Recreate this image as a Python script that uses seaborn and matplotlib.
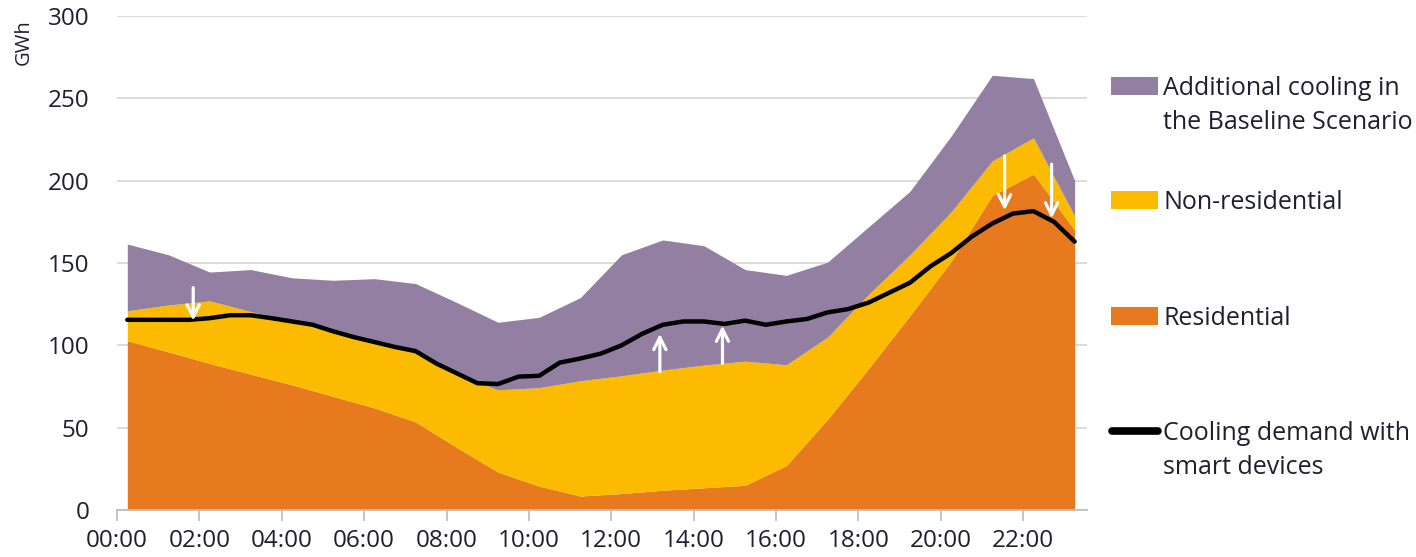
import seaborn as sns
import matplotlib
matplotlib.use("Agg")
from matplotlib import pyplot as plt
from matplotlib.patches import Rectangle
from matplotlib.lines import Line2D

# hourly values (GWh)
hours = [0.25, 1.25, 2.25, 3.25, 4.25, 5.25, 6.25, 7.25, 8.25, 9.25, 10.25, 11.25,
         12.25, 13.25, 14.25, 15.25, 16.25, 17.25, 18.25, 19.25, 20.25, 21.25, 22.25, 23.25]
residential = [102.8, 96, 89, 82.5, 76, 69, 62, 53.5, 38, 23, 14.5, 8.5,
               10, 12, 13.5, 15, 27, 55, 86, 118, 151, 191, 204, 170]
non_residential = [18.2, 28.5, 38, 38, 39, 39, 40, 41.5, 44, 50, 59.8, 70,
                   71.5, 73, 74.5, 75.4, 61.2, 50, 45, 37, 30, 21, 22, 8.5]
additional = [40.5, 30.5, 17.5, 25.5, 26, 31.5, 38.5, 42.5, 44, 41, 42.7, 50.5,
              73.5, 79, 72.5, 55.6, 54.3, 45.5, 41, 38.5, 46, 52, 36, 21.5]

line_hours = [0.25, 0.75, 1.25, 1.75, 2.25, 2.75, 3.25, 3.75, 4.25, 4.75, 5.25, 5.75,
              6.25, 6.75, 7.25, 7.75, 8.25, 8.75, 9.25, 9.75, 10.25, 10.75, 11.25, 11.75,
              12.25, 12.75, 13.25, 13.75, 14.25, 14.75, 15.25, 15.75, 16.25, 16.75, 17.25, 17.75,
              18.25, 18.75, 19.25, 19.75, 20.25, 20.75, 21.25, 21.75, 22.25, 22.75, 23.25]
smart_demand = [115.5, 115.5, 115.5, 115.5, 116.5, 118.3, 118.3, 116.5, 114.5, 112.5, 108.5, 105,
                102, 99, 96.5, 89, 83, 77, 76.5, 81, 81.5, 89.5, 92, 95,
                100, 107, 112.5, 114.5, 114.5, 113, 115, 112.5, 114.5, 116, 120, 122,
                126, 132, 138, 148, 156, 166, 174, 180, 181.5, 175, 163]

# white arrows: hour, start value, end value
arrow_hours = [1.85, 13.18, 14.7, 21.55, 22.69]
arrow_from = [135, 84, 89, 215, 210]
arrow_to = [115, 107, 112, 182, 177]

labels = ["Additional cooling in\nthe Baseline Scenario", "Non-residential", "Residential",
          "Cooling demand with\nsmart devices"]
colors = ["#927FA2", "#FCBB00", "#E7791F", "black"]
tick_hours = [0, 2, 4, 6, 8, 10, 12, 14, 16, 18, 20, 22]
tick_labels = ["00:00", "02:00", "04:00", "06:00", "08:00", "10:00",
               "12:00", "14:00", "16:00", "18:00", "20:00", "22:00"]

sns.set_theme(style="white")
plt.rcParams["font.family"] = ["Open Sans", "DejaVu Sans"]
text_color = "#1F1F2F"

W, H = 1416, 557
fig = plt.figure(figsize=(W / 100, H / 100), dpi=100)
ax = fig.add_axes([117 / W, 1 - 510 / H, 970 / W, 494 / H])

ax.stackplot(hours, residential, non_residential, additional,
             colors=[colors[2], colors[1], colors[0]], linewidth=0, zorder=2)
sns.lineplot(x=line_hours, y=smart_demand, color="black", linewidth=3.2, ax=ax, zorder=3)

for h, a, b in zip(arrow_hours, arrow_from, arrow_to):
    ax.annotate("", xy=(h, b), xytext=(h, a),
                arrowprops=dict(arrowstyle="->", color="white", lw=2.3, mutation_scale=22,
                                shrinkA=0, shrinkB=0), zorder=4)

ax.set_xlim(0, 23.55)
ax.set_ylim(0, 300)
ax.set_yticks([0, 50, 100, 150, 200, 250, 300])
ax.set_xticks(tick_hours)
ax.set_xticklabels(tick_labels)
ax.grid(axis="y", color="#D9D9D9", linewidth=1.3, zorder=0)
ax.grid(axis="x", visible=False)
ax.set_axisbelow(True)
for s in ["left", "right", "top"]:
    ax.spines[s].set_visible(False)
ax.spines["bottom"].set_color("#BFBFBF")
ax.spines["bottom"].set_linewidth(1.3)
ax.tick_params(axis="x", bottom=True, length=8, width=1.3, color="#BFBFBF", pad=6,
               labelsize=17.5, labelcolor=text_color)
ax.tick_params(axis="y", left=False, length=0, pad=20, labelsize=17.5, labelcolor=text_color)
ax.text(-0.096, 0.947, "GWh", transform=ax.transAxes, rotation=90, ha="center", va="center",
        fontsize=14.5, color=text_color)

# legend on the right, handle aligned with the first text line
centers = [86, 200, 316, 431]
for lab, col, cy in zip(labels, colors, centers):
    if col == "black":
        fig.add_artist(Line2D([1112 / W, 1158 / W], [1 - cy / H, 1 - cy / H], color=col,
                              linewidth=5.5, solid_capstyle="round"))
    else:
        fig.add_artist(Rectangle((1111 / W, 1 - (cy + 9) / H), 47 / W, 18 / H,
                                 facecolor=col, edgecolor="none"))
    for k, part in enumerate(lab.split("\n")):
        fig.text(1163 / W, 1 - (cy + 9 + 34 * k) / H, part, ha="left", va="baseline",
                 fontsize=18, color=text_color)

fig.savefig("out.png", dpi=100)
